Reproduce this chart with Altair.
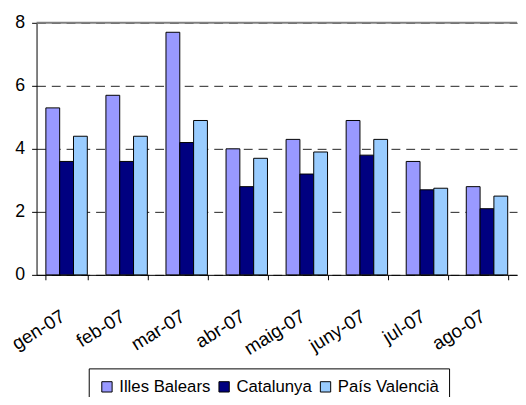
import altair as alt
import pandas as pd

months = ["gen-07", "feb-07", "mar-07", "abr-07", "maig-07", "juny-07", "jul-07", "ago-07"]
series = ["Illes Balears", "Catalunya", "País Valencià"]
illes_balears = [5.3, 5.7, 7.7, 4.0, 4.3, 4.9, 3.6, 2.8]
catalunya = [3.6, 3.6, 4.2, 2.8, 3.2, 3.8, 2.7, 2.1]
pais_valencia = [4.4, 4.4, 4.9, 3.7, 3.9, 4.3, 2.75, 2.5]
colors = ["#9999FF", "#000080", "#99CCFF"]
y_ticks = [0, 2, 4, 6, 8]
y_max = [8]

rows = []
for name, vals in zip(series, [illes_balears, catalunya, pais_valencia]):
    for m, v in zip(months, vals):
        rows.append({"month": m, "series": name, "value": v})
df = pd.DataFrame(rows)

FONT = "Liberation Sans"

bars = alt.Chart(df).mark_bar(stroke="black", strokeWidth=1).encode(
    x=alt.X("month:N", sort=months, title=None,
            scale=alt.Scale(paddingInner=0.31, paddingOuter=0.155),
            axis=alt.Axis(labelAngle=-32, labelAlign="right", labelBaseline="middle",
                          labelPadding=35, labelOffset=-4, labelFontSize=19, labelFont=FONT,
                          labelColor="black", tickBand="extent", tickSize=5,
                          tickColor="black", domainColor="black", grid=False)),
    xOffset=alt.XOffset("series:N", sort=series),
    y=alt.Y("value:Q", title=None,
            scale=alt.Scale(domain=[0, 8], nice=False),
            axis=alt.Axis(values=y_ticks, labelFontSize=18, labelFont=FONT,
                          labelColor="black", tickSize=5, tickColor="black",
                          domainColor="black", labelPadding=7,
                          grid=True, gridColor="#222222", gridDash=[9, 6],
                          gridWidth=1)),
    color=alt.Color("series:N", sort=series, title=None,
                    scale=alt.Scale(domain=series, range=colors),
                    legend=alt.Legend(orient="none", direction="horizontal",
                                      legendX=53, legendY=351,
                                      strokeColor="black", padding=10,
                                      symbolType="square", symbolSize=110,
                                      symbolStrokeColor="black", symbolStrokeWidth=1,
                                      labelFontSize=17, labelFont=FONT,
                                      labelColor="black", labelOffset=4,
                                      columnPadding=5)),
)

top = alt.Chart(pd.DataFrame({"v": y_max})).mark_rule(color="#808080", strokeWidth=2).encode(
    y=alt.Y("v:Q")
)

chart = alt.layer(bars, top).properties(
    width=488, height=256,
    autosize=alt.AutoSizeParams(type="none"),
    padding={"left": 29, "top": 12, "right": 1, "bottom": 121},
).configure_view(stroke=None)

chart.save("out.html", embed_options={"renderer": "svg", "actions": False})
